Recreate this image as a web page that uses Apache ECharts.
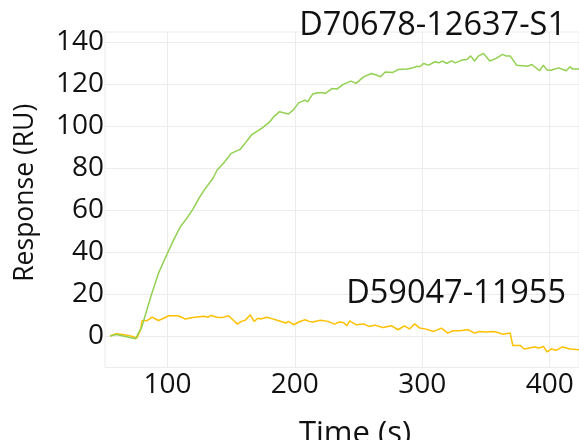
<!DOCTYPE html>
<html><head><meta charset="utf-8">
<script src="https://cdn.jsdelivr.net/npm/echarts@6/dist/echarts.min.js"></script>
<style>html,body{margin:0;padding:0;background:#fff}#c{width:579px;height:440px}</style>
</head><body><div id="c"></div>
<script>
const xTicks = [100, 200, 300, 400];
const yTicks = [0, 20, 40, 60, 80, 100, 120, 140];
const seriesNames = ["D70678-12637-S1", "D59047-11955"];
const greenTime = [55,60,75,80,87,93,100,105,110,115,120,125,129,136,139,144,150,157,161,166,170,175,180,184,188,191,195,199,203,208,210,214,218,222,224,229,233,238,244,248,254,260,264,267,271,277,281,288,293,296,298,301,305,310,313,316,319,323,326,331,335,338,341,344,348,353,358,363,366,369,374,383,386,392,395,398,401,407,413,416,418,423];
const greenResp = [0,0.7,-1.3,4.6,18.9,30,39.5,46,52,56,60.5,66,69.7,75.5,79.2,82.4,87.1,89,92,95.9,97.5,99.5,102,104.9,107,106.5,105.9,108,111.2,112.5,111.7,115.4,116,116,115.7,118,117.8,120,121.6,120.5,123.6,125.2,124.5,123.6,125.9,125.7,127.1,127.4,128,128.7,128.4,130,129.2,130.8,130.3,131.1,130,131.2,130.3,131.6,131.9,133.6,131.2,133.5,134.8,131.2,132.4,134.3,133.5,133.6,129.2,128.7,129.5,126.5,129.2,126.8,126.8,127.9,126.5,128.4,127.4,127.4];
const yellowTime = [55,58,60,66,70,74,76,79,80,84,88,91,93,97,101,108,111,114,121,129,132,134,139,143,148,150,155,158,161,165,168,171,173,178,182,186,193,195,199,203,208,211,214,220,226,231,235,238,241,243,248,254,258,263,269,276,281,286,290,294,298,303,309,315,320,324,329,336,341,345,350,356,360,363,369,371,377,380,384,388,392,395,398,401,405,410,416,423];
const yellowResp = [0,0.8,1.1,0.6,0.2,-0.5,-1,3,7.3,7.4,9,8,7.4,8.5,9.7,9.7,9,8.1,9,9.4,9,9.8,9,8.8,9.7,8.5,5.7,7,7.5,10.1,7,8.5,8.1,9,8.3,7.5,6.2,7,5.4,6.7,7.8,7,6.7,7.5,7,5.7,6.7,6.5,4.9,7.2,5.4,5.8,4.6,5.2,4.1,4.9,3,4.9,3.4,5.8,3.8,3.3,2.2,3.8,1.4,2.5,2.5,3,1.4,2.2,1.9,2.2,1.6,0.9,1.4,-4.5,-4.5,-6.2,-5.7,-5.2,-5.7,-4.9,-7.6,-6.2,-6.8,-5.2,-6.2,-6.5];

const zip = (a, b) => a.map((t, i) => [t, b[i]]);
const FONT = '"Open Sans", "Noto Sans", sans-serif';
const chart = echarts.init(document.getElementById('c'), null, {renderer: 'canvas'});
chart.setOption({
  animation: false,
  grid: {left: 105, right: 0, top: 32, bottom: 72.5, containLabel: false, outerBoundsMode: 'none', show: true, borderColor: '#ececec', borderWidth: 1},
  xAxis: {
    type: 'value', min: 51, max: 423,
    name: 'Time (s)', nameLocation: 'middle', nameGap: 51,
    nameTextStyle: {fontFamily: FONT, fontSize: 31, color: '#111', padding: [0, 0, 0, 26]},
    axisLine: {show: false}, axisTick: {show: false, customValues: xTicks},
    axisLabel: {customValues: xTicks, fontFamily: FONT, fontSize: 28, color: '#111', margin: 4},
    splitLine: {show: true, lineStyle: {color: '#ececec', width: 1}}
  },
  yAxis: {
    type: 'value', min: -15, max: 145,
    name: 'Response (RU)', nameLocation: 'middle', nameGap: 66,
    nameTextStyle: {fontFamily: FONT, fontSize: 26.5, color: '#111', padding: [0, 0, 0, 14]},
    axisLine: {show: false}, axisTick: {show: false, customValues: yTicks},
    axisLabel: {customValues: yTicks, fontFamily: FONT, fontSize: 28, color: '#111', margin: 1},
    splitLine: {show: true, lineStyle: {color: '#ececec', width: 1}}
  },
  series: [
    {name: seriesNames[1], type: 'line', data: zip(yellowTime, yellowResp), showSymbol: false, lineStyle: {color: '#ffc000', width: 1.5}, itemStyle: {color: '#ffc000'}},
    {name: seriesNames[0], type: 'line', data: zip(greenTime, greenResp), showSymbol: false, lineStyle: {color: '#92d050', width: 1.5}, itemStyle: {color: '#92d050'}}
  ],
  graphic: [
    {type: 'text', right: 13, top: 9, z: 100, style: {text: seriesNames[0], font: '32.5px ' + FONT, fill: '#111'}},
    {type: 'text', right: 13, top: 277, z: 100, style: {text: seriesNames[1], font: '32.5px ' + FONT, fill: '#111'}}
  ]
});
</script></body></html>
